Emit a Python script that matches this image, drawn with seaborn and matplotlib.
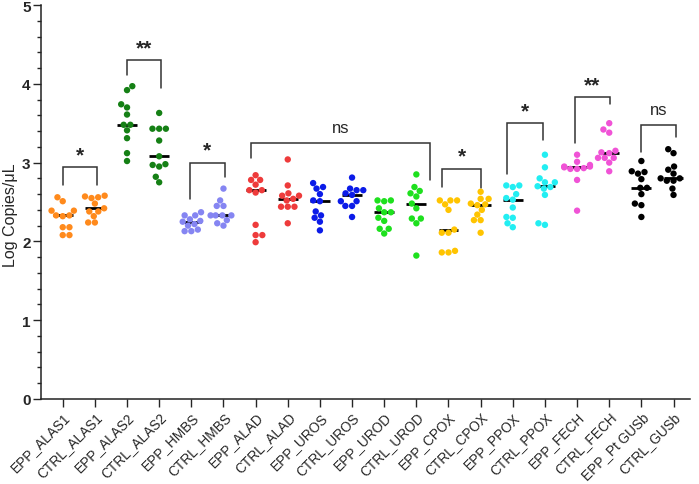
import matplotlib.pyplot as plt
import numpy as np
import pandas as pd
import seaborn as sns

# values (log copies / uL)
epp_alas1 = [2.56, 2.51, 2.39, 2.39, 2.33, 2.33, 2.32, 2.18, 2.18, 2.08, 2.08]
ctrl_alas1 = [2.58, 2.57, 2.56, 2.55, 2.48, 2.42, 2.38, 2.38, 2.32, 2.24, 2.24]
epp_alas2 = [3.97, 3.92, 3.74, 3.70, 3.61, 3.48, 3.48, 3.41, 3.31, 3.12, 3.02]
ctrl_alas2 = [3.63, 3.43, 3.43, 3.43, 3.28, 3.08, 2.98, 2.97, 2.95, 2.82, 2.75]
epp_hmbs = [2.37, 2.33, 2.33, 2.28, 2.26, 2.25, 2.22, 2.20, 2.15, 2.13, 2.13]
ctrl_hmbs = [2.67, 2.52, 2.45, 2.45, 2.33, 2.33, 2.33, 2.33, 2.27, 2.23, 2.20]
epp_alad = [2.84, 2.78, 2.78, 2.72, 2.65, 2.65, 2.62, 2.21, 2.08, 2.08, 1.99]
ctrl_alad = [3.04, 2.71, 2.61, 2.58, 2.58, 2.54, 2.52, 2.44, 2.44, 2.44, 2.23]
epp_uros = [2.74, 2.69, 2.67, 2.60, 2.52, 2.51, 2.38, 2.33, 2.30, 2.25, 2.14]
ctrl_uros = [2.81, 2.67, 2.65, 2.65, 2.61, 2.59, 2.51, 2.51, 2.45, 2.45, 2.31]
epp_urod = [2.52, 2.52, 2.51, 2.42, 2.37, 2.37, 2.30, 2.26, 2.16, 2.16, 2.10]
ctrl_urod = [2.85, 2.69, 2.64, 2.61, 2.57, 2.48, 2.42, 2.29, 2.29, 2.23, 1.82]
epp_cpox = [2.52, 2.52, 2.52, 2.47, 2.40, 2.15, 2.11, 2.11, 1.88, 1.86, 1.86]
ctrl_cpox = [2.63, 2.54, 2.54, 2.48, 2.47, 2.46, 2.40, 2.34, 2.27, 2.27, 2.11]
epp_ppox = [2.71, 2.71, 2.69, 2.60, 2.55, 2.53, 2.43, 2.31, 2.30, 2.23, 2.18]
ctrl_ppox = [3.10, 2.94, 2.80, 2.75, 2.75, 2.70, 2.69, 2.67, 2.59, 2.23, 2.21]
epp_fech = [3.10, 3.01, 2.97, 2.95, 2.95, 2.94, 2.93, 2.92, 2.92, 2.78, 2.39]
ctrl_fech = [3.50, 3.42, 3.38, 3.15, 3.13, 3.12, 3.06, 3.06, 3.06, 3.00, 2.89]
epp_gusb = [3.02, 2.89, 2.88, 2.86, 2.79, 2.68, 2.68, 2.60, 2.48, 2.46, 2.31]
ctrl_gusb = [3.17, 3.12, 2.95, 2.91, 2.86, 2.80, 2.80, 2.77, 2.77, 2.67, 2.59]

groups = ['EPP_ALAS1', 'CTRL_ALAS1', 'EPP_ALAS2', 'CTRL_ALAS2', 'EPP_HMBS',
          'CTRL_HMBS', 'EPP_ALAD', 'CTRL_ALAD', 'EPP_UROS', 'CTRL_UROS',
          'EPP_UROD', 'CTRL_UROD', 'EPP_CPOX', 'CTRL_CPOX', 'EPP_PPOX',
          'CTRL_PPOX', 'EPP_FECH', 'CTRL_FECH', 'EPP_Pt GUSb', 'CTRL_GUSb']
series = [epp_alas1, ctrl_alas1, epp_alas2, ctrl_alas2, epp_hmbs, ctrl_hmbs,
          epp_alad, ctrl_alad, epp_uros, ctrl_uros, epp_urod, ctrl_urod,
          epp_cpox, ctrl_cpox, epp_ppox, ctrl_ppox, epp_fech, ctrl_fech,
          epp_gusb, ctrl_gusb]
gene_colors = ['#FF8A1C', '#158015', '#8585F2', '#EE3B3B', '#0B1BE8',
               '#1EE01E', '#FFC400', '#22EEF2', '#F053D6', '#000000']
palette = [c for c in gene_colors for _ in range(2)]

# significance brackets: left x, right x, left leg end, top, right leg end, label
br_x1 = [0.0, 1.99, 3.95, 5.86, 11.81, 13.83, 15.93, 17.98]
br_x2 = [1.06, 3.06, 5.04, 11.42, 13.01, 14.95, 17.01, 19.08]
br_yl = [2.71, 4.11, 2.54, 3.06, 2.69, 2.85, 3.25, 3.13]
br_top = [2.94, 4.30, 3.00, 3.25, 2.92, 3.50, 3.83, 3.48]
br_yr = [2.72, 3.95, 2.82, 2.78, 2.68, 3.29, 3.75, 3.32]
br_text = ['*', '**', '*', 'ns', '*', '*', '**', 'ns']

df = pd.DataFrame({
    'group': np.repeat(groups, [len(s) for s in series]),
    'value': np.concatenate(series),
})

sns.set_style('ticks')
plt.rcParams['font.family'] = ['Liberation Sans', 'DejaVu Sans']

fig = plt.figure(figsize=(6.99, 4.85), dpi=100)
ax = fig.add_axes([0.0587, 0.1753, 0.9283, 0.8123])

sns.swarmplot(data=df, x='group', y='value', hue='group', order=groups,
              hue_order=groups, palette=palette, size=4.6, legend=False, ax=ax)

# median lines
sns.boxplot(data=df, x='group', y='value', order=groups, width=0.62,
            showbox=False, showcaps=False, showfliers=False, whis=0,
            whiskerprops={'visible': False},
            medianprops={'color': 'black', 'linewidth': 2}, ax=ax)

for x1, x2, yl, yt, yr, txt in zip(br_x1, br_x2, br_yl, br_top, br_yr, br_text):
    ax.plot([x1, x1, x2, x2], [yl, yt, yt, yr], color='#333333', lw=1.1,
            solid_joinstyle='miter')
    if txt == 'ns':
        ax.text((x1 + x2) / 2, yt + 0.1, txt, ha='center', va='bottom',
                fontsize=12)
    else:
        ax.text((x1 + x2) / 2, yt + 0.04, txt, ha='center', va='bottom',
                fontsize=15, fontweight='bold')

ax.set_xlim(-0.675, 19.51)
ax.set_ylim(0, 5)
ax.set_yticks(range(6))
ax.set_yticks(np.arange(0, 5.01, 0.2), minor=True)
ax.tick_params(axis='y', which='major', length=5.5, width=1, labelsize=11,
               pad=2)
ax.tick_params(axis='y', which='minor', length=3, width=1)
ax.tick_params(axis='x', length=5.5, width=1, labelsize=9.8, pad=2)
for lab in ax.get_yticklabels():
    lab.set_fontweight('bold')
plt.setp(ax.get_xticklabels(), rotation=45, ha='right',
         rotation_mode='anchor')

ax.set_xlabel('')
ax.set_ylabel('Log Copies/μL', fontsize=11.5)
ax.yaxis.set_label_coords(-0.036, 0.47)

sns.despine(ax=ax)
for side in ['left', 'bottom']:
    ax.spines[side].set_linewidth(1.1)
    ax.spines[side].set_color('#222222')

fig.savefig('out.png', dpi=100)
